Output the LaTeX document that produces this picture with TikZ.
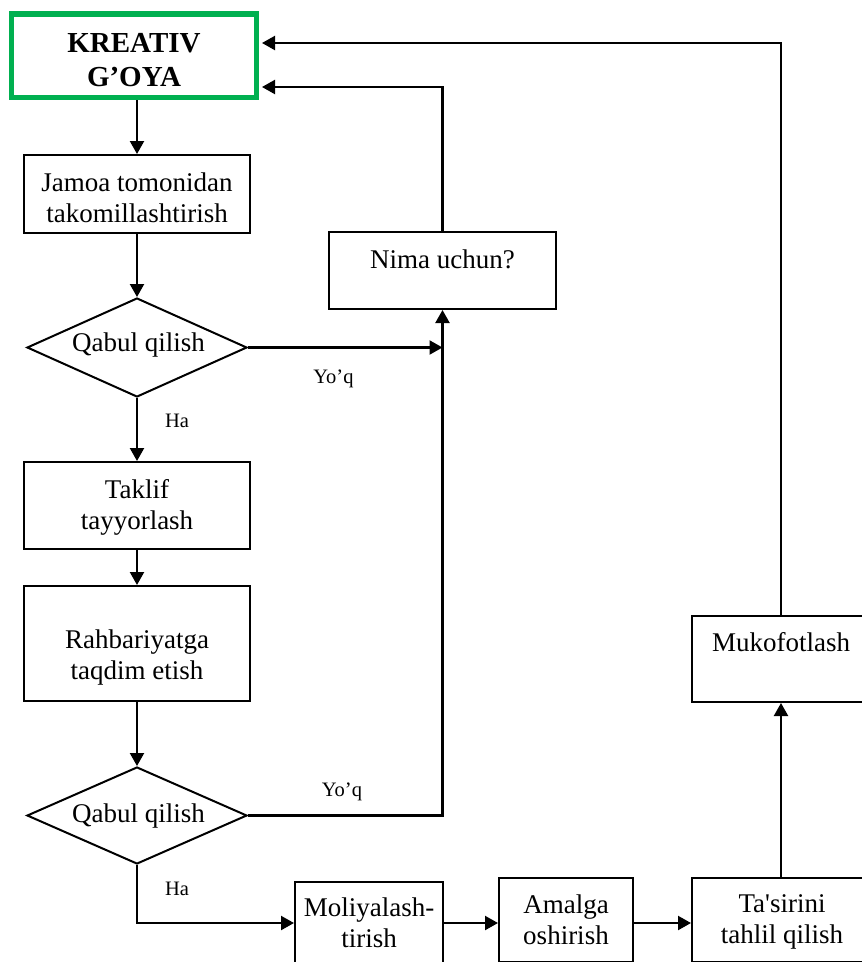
\documentclass[tikz,border=0pt]{standalone}
\usepackage{fontspec}
\newfontfamily\rawserif{Liberation Serif}
\usetikzlibrary{arrows.meta,shapes.geometric}
\definecolor{kgreen}{HTML}{00B050}
\begin{document}
\begin{tikzpicture}[x=1pt,y=-1pt,
  font=\rawserif\fontsize{27}{31}\selectfont,
  box/.style={draw, rectangle, line width=2pt, inner sep=0pt},
  dia/.style={draw, diamond, line width=2pt, inner sep=0pt, minimum width=220pt, minimum height=99pt},
  txt/.style={align=center, inner sep=0pt},
  conn/.style={line width=2.2pt},
  arr/.style={conn, -{Triangle[length=13pt,width=14pt]}},
  tag/.style={font=\rawserif\fontsize{20.5}{24}\selectfont, anchor=base, inner sep=0pt}]
\useasboundingbox (0,0) rectangle (862,962);
\clip (0,0) rectangle (862,962);

% boxes
\node[box, draw=kgreen, line width=5.5pt, minimum width=245pt, minimum height=83.5pt,
  label={[txt, font=\rawserif\bfseries\fontsize{29}{34}\selectfont, yshift=-4.6pt]center:{KREATIV\\G’OYA}}] (kg) at (134,55.75) {};
\node[box, minimum width=226pt, minimum height=78pt,
  label={[txt, yshift=-3.3pt]center:{Jamoa tomonidan\\takomillashtirish}}] (jam) at (137,194) {};
\node[dia, label={[txt, xshift=1.5pt, yshift=2pt]center:{Qabul qilish}}] (d1) at (137,347.5) {};
\node[box, minimum width=226pt, minimum height=87pt,
  label={[txt, yshift=-1.5pt]center:{Taklif\\tayyorlash}}] (tak) at (137,505.5) {};
\node[box, minimum width=226pt, minimum height=115pt,
  label={[txt, yshift=-13.5pt]center:{Rahbariyatga\\taqdim etish}}] (rah) at (137,643.5) {};
\node[dia, minimum height=97pt, label={[txt, xshift=1.5pt]center:{Qabul qilish}}] (d2) at (137,815.5) {};
\node[box, minimum width=148pt, minimum height=82pt,
  label={[txt]center:{Moliyalash-\\tirish}}] (mol) at (369,923) {};
\node[box, minimum width=134pt, minimum height=84pt,
  label={[txt]center:{Amalga\\oshirish}}] (ama) at (566,920) {};
\node[box, minimum width=180pt, minimum height=84pt,
  label={[txt, yshift=-1.7pt]center:{Ta's\/irini\\tahlil qilish}}] (tas) at (782,920) {};
\node[box, minimum width=178pt, minimum height=86pt,
  label={[txt, yshift=16.5pt]center:{Mukofotlash}}] (muk) at (781,659) {};
\node[box, minimum width=227pt, minimum height=77pt,
  label={[txt, yshift=11.5pt]center:{Nima uchun?}}] (nim) at (442.5,270.5) {};

% connectors
\draw[arr] (jam.north |- kg.south) -- (jam.north);
\draw[arr] (jam.south) -- (d1.north);
\draw[arr] (d1.south) -- (tak.north);
\draw[arr] (tak.south) -- (rah.north);
\draw[arr] (rah.south) -- (d2.north);
\draw[arr] (d1.east) -- (nim.south |- d1.east);
\draw[arr] (d2.east) -| (nim.south);
\draw[arr, shorten >=2.75pt] (nim.north) |- ([yshift=-31.25pt]kg.east);
\draw[arr] (d2.south) |- (mol.west);
\draw[arr] (mol.east) -- (ama.west |- mol.east);
\draw[arr] (ama.east |- mol.east) -- (tas.west |- mol.east);
\draw[arr] (muk.south |- tas.north) -- (muk.south);
\draw[arr, shorten >=2.75pt] (muk.north) |- ([yshift=12.75pt]kg.east);

% branch labels
\node[tag] (y1) at (333.5,383) {Yo’q};
\node[tag] (h1) at (177,427) {Ha};
\node[tag] (y2) at (342,796) {Yo’q};
\node[tag] (h2) at (177,895) {Ha};
\end{tikzpicture}
\end{document}
